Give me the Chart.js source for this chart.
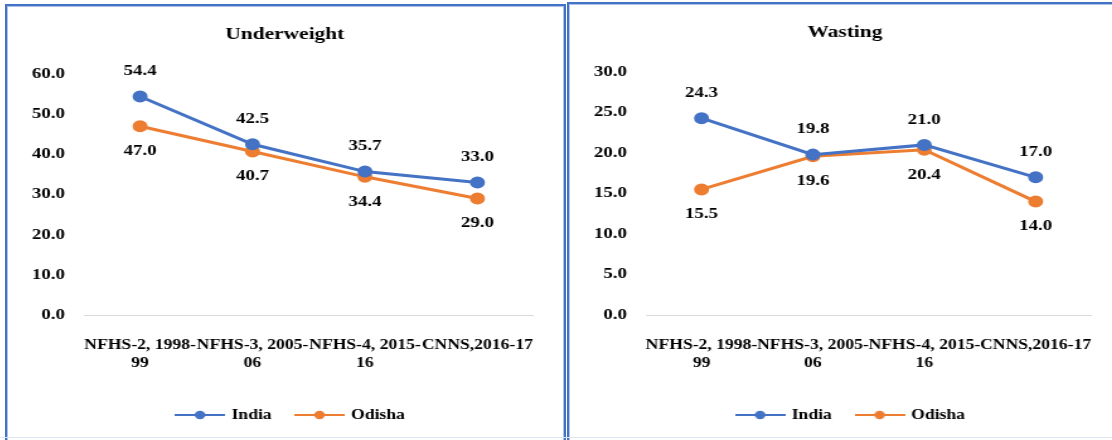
<!DOCTYPE html>
<html>
<head>
<meta charset="utf-8">
<script src="https://cdn.jsdelivr.net/npm/chart.js@4.4.1/dist/chart.umd.min.js"></script>
<style>
  html, body { margin: 0; padding: 0; background: #fff; }
  body { width: 1112px; height: 440px; overflow: hidden; position: relative; }
  .panel {
    position: absolute; box-sizing: border-box;
    border: 2px solid #4472C4; border-bottom: none;
    box-shadow: inset 1px 1px 0 #A9C2EA, inset -1px 0 0 #A9C2EA;
  }
  #p1 { left: 5px; top: 4px; width: 561px; height: 436px; }
  #p2 { left: 567px; top: 2px; width: 560px; height: 438px; }
  .wrap { position: absolute; left: 0; transform: scaleX(1.26); transform-origin: 0 0; }
  #w1 { top: 0; width: 441px; height: 434px; }
  #w2 { top: 2px; width: 438px; height: 434px; }
  .foot { position: absolute; left: 0; top: 437px; width: 1112px; height: 1px; background: #DDE5F0; }
</style>
</head>
<body>
<div class="panel" id="p1"><div class="wrap" id="w1"><canvas id="c1"></canvas></div></div>
<div class="panel" id="p2"><div class="wrap" id="w2"><canvas id="c2"></canvas></div></div>
<div class="foot"></div>
<script>
// Survey rounds (x axis)
const categories = [["NFHS-2, 1998-", "99"], ["NFHS-3, 2005-", "06"], ["NFHS-4, 2015-", "16"], "CNNS,2016-17"];
const seriesNames = ["India", "Odisha"];

// Underweight (%)
const underweightIndia = [54.4, 42.5, 35.7, 33.0];
const underweightOdisha = [47.0, 40.7, 34.4, 29.0];
const underweightAxis = { max: 60, step: 10 };

// Wasting (%)
const wastingIndia = [24.3, 19.8, 21.0, 17.0];
const wastingOdisha = [15.5, 19.6, 20.4, 14.0];
const wastingAxis = { max: 30, step: 5 };

const BLUE = '#4472C4';
const ORANGE = '#ED7D31';
const SERIF = '"Liberation Serif", "Times New Roman", serif';

Chart.defaults.color = '#000';
Chart.defaults.font.family = SERIF;
Chart.defaults.font.weight = 'bold';

// Line-with-marker glyph for legend entries
function legendGlyph(color) {
  const c = document.createElement('canvas');
  c.width = 40; c.height = 12;
  const g = c.getContext('2d');
  g.strokeStyle = color; g.lineWidth = 2;
  g.beginPath(); g.moveTo(0, 6); g.lineTo(40, 6); g.stroke();
  g.fillStyle = color;
  g.beginPath(); g.arc(20, 6, 4.2, 0, Math.PI * 2); g.fill();
  return c;
}
const glyphs = [legendGlyph(BLUE), legendGlyph(ORANGE)];

// Value labels above/below each point
const valueLabels = {
  id: 'valueLabels',
  afterDatasetsDraw(chart, args, opts) {
    const ctx = chart.ctx;
    ctx.save();
    ctx.font = 'bold 15px ' + SERIF;
    ctx.fillStyle = '#000';
    ctx.textAlign = 'center';
    ctx.textBaseline = 'middle';
    chart.data.datasets.forEach((ds, di) => {
      const meta = chart.getDatasetMeta(di);
      const off = opts.offsets[di];
      meta.data.forEach((pt, i) => {
        ctx.fillText(ds.data[i].toFixed(1), pt.x, pt.y + off);
      });
    });
    ctx.restore();
  }
};

// Nudge the legend row slightly to the right of the canvas centre
const legendShift = {
  id: 'legendShift',
  afterLayout(chart, args, opts) {
    if (chart.legend) {
      chart.legend.left += opts.dx;
      chart.legend.right += opts.dx;
    }
  }
};

function makeChart(canvasId, title, india, odisha, axis, titlePad) {
  const mkSet = (label, data, color) => ({
    label, data,
    borderColor: color, backgroundColor: color,
    borderWidth: 3,
    pointRadius: 5, pointBorderWidth: 2,
    pointBackgroundColor: color, pointBorderColor: color,
    tension: 0
  });
  return new Chart(document.getElementById(canvasId), {
    type: 'line',
    data: {
      labels: categories,
      datasets: [mkSet(seriesNames[0], india, BLUE), mkSet(seriesNames[1], odisha, ORANGE)]
    },
    plugins: [valueLabels, legendShift],
    options: {
      responsive: true,
      maintainAspectRatio: false,
      animation: false,
      devicePixelRatio: 1,
      layout: { padding: { top: 0, bottom: 8, left: 0, right: 0 } },
      plugins: {
        title: {
          display: true, text: title,
          font: { size: 17, weight: 'bold', family: SERIF },
          color: '#000',
          padding: titlePad
        },
        legend: {
          position: 'bottom',
          labels: {
            usePointStyle: true,
            pointStyleWidth: 36,
            padding: 20,
            font: { size: 14, weight: 'bold', family: SERIF },
            color: '#000',
            generateLabels(chart) {
              const items = Chart.defaults.plugins.legend.labels.generateLabels(chart);
              return items.map((it, i) => Object.assign(it, { pointStyle: glyphs[i] }));
            }
          }
        },
        tooltip: { enabled: false },
        valueLabels: { offsets: [-25, 25] },
        legendShift: { dx: 5 }
      },
      scales: {
        x: {
          offset: true,
          grid: { display: false, drawTicks: false },
          border: { display: true, color: '#D9D9D9', width: 1 },
          ticks: {
            autoSkip: false, maxRotation: 0, minRotation: 0,
            padding: 21,
            font: { size: 14, weight: 'bold', family: SERIF, lineHeight: 1.2857 },
            color: '#000'
          },
          afterFit(s) { s.height = 73; }
        },
        y: {
          min: 0, max: axis.max,
          grid: { display: false, drawTicks: false },
          border: { display: false },
          ticks: {
            stepSize: axis.step,
            padding: 15,
            font: { size: 15, weight: 'bold', family: SERIF },
            color: '#000',
            callback: v => Number(v).toFixed(1)
          },
          afterFit(s) { s.width = 61; }
        },
        gutter: {
          position: 'right',
          grid: { display: false, drawTicks: false },
          border: { display: false },
          ticks: { display: false },
          afterFit(s) { s.width = 20; }
        }
      }
    }
  });
}

makeChart('c1', 'Underweight', underweightIndia, underweightOdisha, underweightAxis, { top: 18, bottom: 29.6 });
makeChart('c2', 'Wasting', wastingIndia, wastingOdisha, wastingAxis, { top: 16, bottom: 29.6 });
</script>
</body>
</html>
